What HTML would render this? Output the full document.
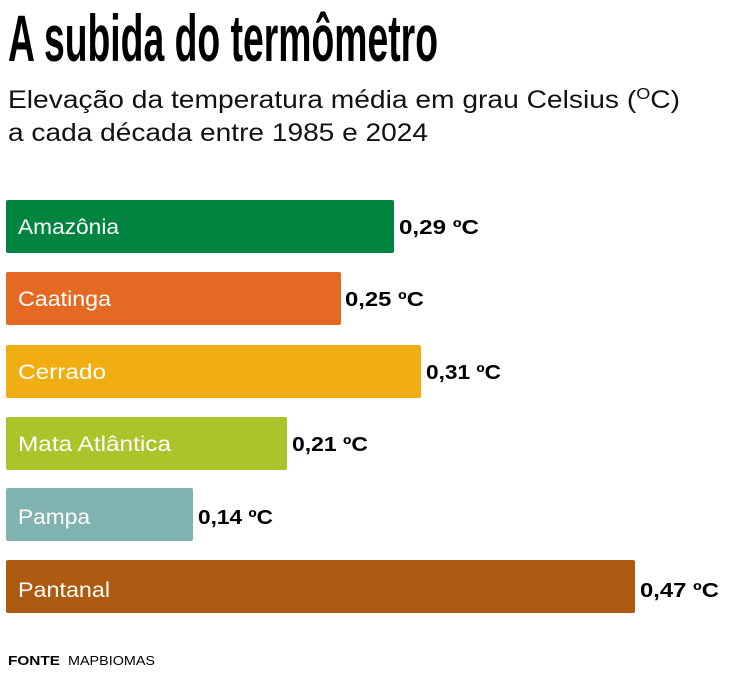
<!DOCTYPE html>
<html><head><meta charset="utf-8"><style>html,body{margin:0;padding:0;background:#fff}</style></head><body>
<svg width="736" height="670" xmlns="http://www.w3.org/2000/svg" font-family="Liberation Sans, sans-serif">
<text x="8" y="61" font-size="66" font-weight="bold" textLength="430" lengthAdjust="spacingAndGlyphs" fill="#000">A subida do termômetro</text>
<text x="8" y="108" font-size="25" textLength="672" lengthAdjust="spacingAndGlyphs" fill="#111">Elevação da temperatura média em grau Celsius (<tspan font-size="16" dy="-9">O</tspan><tspan dy="9">C)</tspan></text>
<text x="8" y="141" font-size="25" textLength="420" lengthAdjust="spacingAndGlyphs" fill="#111">a cada década entre 1985 e 2024</text>
<g font-size="21" fill="#fff">
<rect x="6" y="200" width="388" height="53" rx="2" fill="#00843f"/><text x="18" y="234" textLength="101" lengthAdjust="spacingAndGlyphs">Amazônia</text>
<rect x="6" y="272" width="335" height="53" rx="2" fill="#e46a23"/><text x="18" y="306" textLength="93" lengthAdjust="spacingAndGlyphs">Caatinga</text>
<rect x="6" y="345" width="415" height="53" rx="2" fill="#f0ae13"/><text x="18" y="379" textLength="88" lengthAdjust="spacingAndGlyphs">Cerrado</text>
<rect x="6" y="417" width="281" height="53" rx="2" fill="#adc32a"/><text x="18" y="451" textLength="153" lengthAdjust="spacingAndGlyphs">Mata Atlântica</text>
<rect x="6" y="488" width="187" height="53" rx="2" fill="#80b3b0"/><text x="18" y="524" textLength="72" lengthAdjust="spacingAndGlyphs">Pampa</text>
<rect x="6" y="560" width="629" height="53" rx="2" fill="#ad5b10"/><text x="18" y="597" textLength="92" lengthAdjust="spacingAndGlyphs">Pantanal</text>
</g>
<g font-size="20" font-weight="bold" fill="#000">
<text x="399" y="234" textLength="80" lengthAdjust="spacingAndGlyphs">0,29 ºC</text>
<text x="345" y="306" textLength="79" lengthAdjust="spacingAndGlyphs">0,25 ºC</text>
<text x="426" y="379" textLength="75" lengthAdjust="spacingAndGlyphs">0,31 ºC</text>
<text x="292" y="451" textLength="76" lengthAdjust="spacingAndGlyphs">0,21 ºC</text>
<text x="198" y="524" textLength="75" lengthAdjust="spacingAndGlyphs">0,14 ºC</text>
<text x="640" y="597" textLength="79" lengthAdjust="spacingAndGlyphs">0,47 ºC</text>
</g>
<text x="8" y="665" font-size="13" font-weight="bold" fill="#000" textLength="52" lengthAdjust="spacingAndGlyphs">FONTE</text>
<text x="68" y="665" font-size="13" fill="#000" textLength="87" lengthAdjust="spacingAndGlyphs">MAPBIOMAS</text>
</svg>
</body></html>
